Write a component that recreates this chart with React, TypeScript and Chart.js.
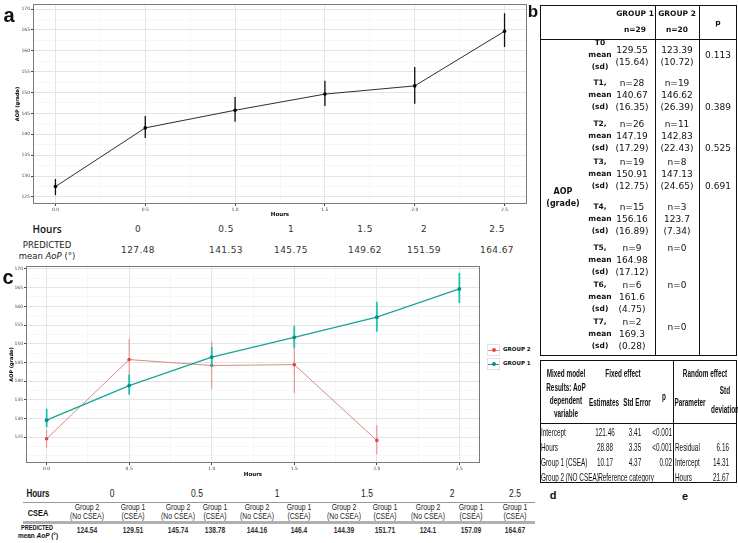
import React, { useEffect, useRef } from "react";
import { Chart, registerables } from "chart.js";
Chart.register(...registerables);

// ---------- Panel a data ----------
const hoursA = [0, 0.5, 1, 1.5, 2, 2.5];
const meanA = [127.48, 141.53, 145.75, 149.62, 151.59, 164.67];
const lowA = [125.4, 139.1, 143.0, 146.8, 147.3, 160.9];
const highA = [129.3, 144.4, 148.9, 152.8, 156.1, 169.0];

// ---------- Panel c data ----------
const hoursG1 = [0, 0.5, 1, 1.5, 2, 2.5];
const group1 = [129.51, 138.78, 146.4, 151.71, 157.09, 164.67];
const group1Low = [127.6, 136.3, 143.8, 148.9, 153.2, 160.9];
const group1High = [132.6, 141.7, 149.1, 154.8, 161.2, 168.9];
const hoursG2 = [0, 0.5, 1, 1.5, 2];
const group2 = [124.54, 145.74, 144.16, 144.39, 124.1];
const group2Low = [122.1, 140.2, 137.8, 136.8, 120.3];
const group2High = [127.0, 151.3, 150.6, 152.0, 128.2];

const yTicks = [125, 130, 135, 140, 145, 150, 155, 160, 165, 170];
const xTicks = [0, 0.5, 1, 1.5, 2, 2.5];
const yRangeA = [123.3, 171.2];
const yRangeC = [118.05, 170.8];
const xRange = [-0.125, 2.625];

// ---------- Table a ----------
const tableAHours = ["0", "0.5", "1", "1.5", "2", "2.5"];

// ---------- Table b ----------
const bTimes = ["T0", "T1,", "T2,", "T3,", "T4,", "T5,", "T6,", "T7,"];
const bG1N = [null, 28, 26, 19, 15, 9, 6, 2];
const bG1Mean = ["129.55", "140.67", "147.19", "150.91", "156.16", "164.98", "161.6", "169.3"];
const bG1Sd = ["15.64", "16.35", "17.29", "12.75", "16.89", "17.12", "4.75", "0.28"];
const bG2N = [null, 19, 11, 8, 3, 0, 0, 0];
const bG2Mean = ["123.39", "146.62", "142.83", "147.13", "123.7", null, null, null];
const bG2Sd = ["10.72", "26.39", "22.43", "24.65", "7.34", null, null, null];
const bP = ["0.113", "0.389", "0.525", "0.691", null, null, null, null];

// ---------- Table d / e ----------
const dTerms = ["Intercept", "Hours", "Group 1 (CSEA)", "Group 2 (NO CSEA)"];
const dEstimates = ["121.46", "28.88", "10.17", null];
const dStdError = ["3.41", "3.35", "4.37", null];
const dP = ["<0.001", "<0.001", "0.02", null];
const eParams = ["Residual", "Intercept", "Hours"];
const eStdDev = ["6.16", "14.31", "21.67"];

// ---------- Table c ----------
const cHours = ["0", "0.5", "1", "1.5", "2", "2.5"];
const cGroupNames = ["Group 2", "Group 1", "Group 2", "Group 1", "Group 2", "Group 1", "Group 2", "Group 1", "Group 2", "Group 1", "Group 1"];
const cGroupSubs = ["(No CSEA)", "(CSEA)", "(No CSEA)", "(CSEA)", "(No CSEA)", "(CSEA)", "(No CSEA)", "(CSEA)", "(No CSEA)", "(CSEA)", "(CSEA)"];
const cPredicted = [124.54, 129.51, 145.74, 138.78, 144.16, 146.4, 144.39, 151.71, 124.1, 157.09, 164.67];

// ---------- layout (positions only) ----------
const colXA = [138, 226, 291, 365, 424, 497];
const colXCHours = [112, 197, 277, 367, 452, 515];
const colXC = [87, 133, 178, 215, 257, 299, 344, 385, 428, 471, 515];
const bRowY = [43, 83, 124, 162, 207, 248, 285, 322];
const dRowY = [432, 447, 462, 477];

function withMinor(major: number[], lo: number, hi: number) {
  const step = major[1] - major[0];
  const ext = [major[0] - step, ...major, major[major.length - 1] + step];
  const out: number[] = [];
  for (let i = 0; i < ext.length; i++) {
    out.push(ext[i]);
    if (i < ext.length - 1) out.push(ext[i] + step / 2);
  }
  return out.filter((v) => v >= lo && v <= hi);
}

function errorBarPoints(xs: number[], lo: number[], hi: number[]) {
  const pts: any[] = [];
  xs.forEach((x, i) => {
    pts.push({ x, y: lo[i] }, { x, y: hi[i] }, { x, y: null });
  });
  return pts;
}

const isMajor = (list: number[], v: number) => list.some((m) => Math.abs(m - v) < 1e-9);

const panelBorder = {
  id: "panelBorder",
  afterDraw(chart: any) {
    const { ctx, chartArea: a } = chart;
    ctx.save();
    ctx.strokeStyle = "#7a7a7a";
    ctx.lineWidth = 1;
    ctx.strokeRect(Math.round(a.left) + 0.5, Math.round(a.top) + 0.5, Math.round(a.width) - 1, Math.round(a.height) - 1);
    ctx.restore();
  },
};

function makeOptions(cfg: {
  yRange: number[];
  yWidth: number;
  xHeight: number;
  yTitlePad: number;
  xTitlePad: number;
  top: number;
  right: number;
}) {
  const gridColor = (list: number[]) => (ctx: any) =>
    ctx.tick && isMajor(list, ctx.tick.value) ? "#e4e4e4" : "#f1f1f1";
  const gridWidth = (list: number[]) => (ctx: any) =>
    ctx.tick && isMajor(list, ctx.tick.value) ? 1 : 0.6;
  const tickColor = (list: number[]) => (ctx: any) =>
    ctx.tick && isMajor(list, ctx.tick.value) ? "#444" : "rgba(0,0,0,0)";
  return {
    animation: false,
    responsive: false,
    maintainAspectRatio: false,
    layout: { padding: { top: cfg.top, right: cfg.right, left: 0, bottom: 0 } },
    plugins: { legend: { display: false }, tooltip: { enabled: false } },
    scales: {
      x: {
        type: "linear",
        min: xRange[0],
        max: xRange[1],
        afterBuildTicks: (s: any) => {
          s.ticks = withMinor(xTicks, xRange[0], xRange[1]).map((v) => ({ value: v }));
        },
        afterFit: (s: any) => {
          s.height = cfg.xHeight;
        },
        border: { display: false },
        grid: { color: gridColor(xTicks), lineWidth: gridWidth(xTicks), tickColor: tickColor(xTicks), tickLength: 2 },
        ticks: {
          autoSkip: false,
          maxRotation: 0,
          padding: 1,
          font: { size: 4.5, family: "DejaVu Sans" },
          color: "#444",
          callback: (v: any) => (isMajor(xTicks, v) ? Number(v).toFixed(1) : ""),
        },
        title: {
          display: true,
          text: "Hours",
          color: "#000",
          font: { size: 5.5, weight: "bold", family: "DejaVu Sans" },
          padding: { top: cfg.xTitlePad, bottom: cfg.xTitlePad },
        },
      },
      y: {
        type: "linear",
        min: cfg.yRange[0],
        max: cfg.yRange[1],
        afterBuildTicks: (s: any) => {
          s.ticks = withMinor(yTicks, cfg.yRange[0], cfg.yRange[1]).map((v) => ({ value: v }));
        },
        afterFit: (s: any) => {
          s.width = cfg.yWidth;
        },
        border: { display: false },
        grid: { color: gridColor(yTicks), lineWidth: gridWidth(yTicks), tickColor: tickColor(yTicks), tickLength: 2 },
        ticks: {
          autoSkip: false,
          padding: 1,
          font: { size: 4.5, family: "DejaVu Sans" },
          color: "#444",
          callback: (v: any) => (isMajor(yTicks, v) ? String(v) : ""),
        },
        title: {
          display: true,
          text: "AOP (grade)",
          color: "#000",
          font: { size: 5, weight: "bold", family: "DejaVu Sans" },
          padding: { top: cfg.yTitlePad, bottom: cfg.yTitlePad },
        },
      },
    },
  } as any;
}

function ChartA() {
  const ref = useRef<HTMLCanvasElement>(null);
  useEffect(() => {
    const chart = new Chart(ref.current!, {
      type: "line",
      data: {
        datasets: [
          {
            data: hoursA.map((x, i) => ({ x, y: meanA[i] })),
            borderColor: "#2e2e2e",
            borderWidth: 1,
            pointRadius: 1.8,
            pointBackgroundColor: "#000",
            pointBorderWidth: 0,
          },
          {
            data: errorBarPoints(hoursA, lowA, highA),
            borderColor: "#111",
            borderWidth: 1.3,
            pointRadius: 0,
            spanGaps: false,
          },
        ],
      },
      options: makeOptions({ yRange: yRangeA, yWidth: 33, xHeight: 18, yTitlePad: 15, xTitlePad: 3.7, top: 4, right: 5 }),
      plugins: [panelBorder],
    } as any);
    return () => chart.destroy();
  }, []);
  return <canvas ref={ref} width={532} height={222} style={{ position: "absolute", left: 0, top: 0, width: 532, height: 222 }} />;
}

function ChartC() {
  const ref = useRef<HTMLCanvasElement>(null);
  useEffect(() => {
    const chart = new Chart(ref.current!, {
      type: "line",
      data: {
        datasets: [
          {
            label: "GROUP 1",
            data: hoursG1.map((x, i) => ({ x, y: group1[i] })),
            borderColor: "#16a596",
            borderWidth: 1.3,
            pointRadius: 1.9,
            pointBackgroundColor: "#0d8c7e",
            pointBorderWidth: 0,
          },
          {
            data: errorBarPoints(hoursG1, group1Low, group1High),
            borderColor: "#1cc3b0",
            borderWidth: 1.8,
            pointRadius: 0,
            spanGaps: false,
          },
          {
            label: "GROUP 2",
            data: hoursG2.map((x, i) => ({ x, y: group2[i] })),
            borderColor: "#d98a84",
            borderWidth: 1,
            pointRadius: 1.8,
            pointBackgroundColor: "#e8453c",
            pointBorderWidth: 0,
          },
          {
            data: errorBarPoints(hoursG2, group2Low, group2High),
            borderColor: "#e08a86",
            borderWidth: 1,
            pointRadius: 0,
            spanGaps: false,
          },
        ],
      },
      options: makeOptions({ yRange: yRangeC, yWidth: 26, xHeight: 17, yTitlePad: 9, xTitlePad: 1.7, top: 4, right: 4 }),
      plugins: [panelBorder],
    } as any);
    return () => chart.destroy();
  }, []);
  return <canvas ref={ref} width={484} height={218} style={{ position: "absolute", left: 0, top: 262, width: 484, height: 218 }} />;
}

const T = ({ x, y, children, style, align = "center", sx = 1 }: any) => {
  const tr =
    align === "center" ? "translate(-50%,-50%)" : align === "left" ? "translate(0,-50%)" : "translate(-100%,-50%)";
  const origin = align === "center" ? "center center" : align === "left" ? "left center" : "right center";
  return (
    <div
      style={{
        position: "absolute",
        left: x,
        top: y,
        transform: sx === 1 ? tr : `${tr} scaleX(${sx})`,
        transformOrigin: origin,
        whiteSpace: "nowrap",
        lineHeight: 1,
        ...style,
      }}
    >
      {children}
    </div>
  );
};

const Box = ({ x, y, w, h, bg }: any) => (
  <div style={{ position: "absolute", left: x, top: y, width: w, height: h, background: bg }} />
);

const LegendKey = ({ y, color, pointColor, label }: any) => (
  <>
    <div style={{ position: "absolute", left: 487, top: y - 6, width: 13, height: 12, border: "1px solid #e2e2e2", boxSizing: "border-box" }} />
    <Box x={488} y={y - 0.5} w={11} h={1} bg={color} />
    <div style={{ position: "absolute", left: 491.5, top: y - 2, width: 4, height: 4, borderRadius: 2, background: pointColor }} />
    <T x={503} y={y} align="left" style={{ fontSize: 5.5, fontWeight: "bold", fontFamily: "DejaVu Sans" }}>
      {label}
    </T>
  </>
);

export default function App() {
  const fa = { fontFamily: '"DejaVu Sans", sans-serif' };
  const calib = { fontFamily: '"Liberation Sans", Arial, sans-serif' };
  const bLab = { fontSize: 7.5, fontWeight: "bold" as const };
  const bVal = { fontSize: 9 };
  const dHead = { fontSize: 11, fontWeight: "bold" as const, ...calib };
  const dBody = { fontSize: 11, ...calib };
  const dS = 0.58;
  return (
    <div
      style={{
        position: "absolute",
        left: 0,
        top: 0,
        width: 738,
        height: 543,
        background: "#fff",
        color: "#111",
        overflow: "hidden",
        ...fa,
      }}
    >
      <ChartA />
      <ChartC />

      {/* panel letters */}
      <T x={9} y={15} style={{ fontSize: 20, fontWeight: "bold", fontFamily: "Liberation Sans" }}>a</T>
      <T x={533} y={11} style={{ fontSize: 17, fontWeight: "bold", fontFamily: "Liberation Sans" }}>b</T>
      <T x={8} y={277} style={{ fontSize: 20, fontWeight: "bold", fontFamily: "Liberation Sans" }}>c</T>
      <T x={553} y={495} style={{ fontSize: 11, fontWeight: "bold", fontFamily: "Liberation Sans" }}>d</T>
      <T x={685} y={496} style={{ fontSize: 11, fontWeight: "bold", fontFamily: "Liberation Sans" }}>e</T>

      {/* table a */}
      <T x={47} y={229} style={{ fontSize: 10, fontWeight: 600, fontFamily: "Open Sans" }}>Hours</T>
      <T x={47} y={245} style={{ fontSize: 8.5, color: "#222" }}>PREDICTED</T>
      <T x={47} y={256} style={{ fontSize: 8.5, color: "#222" }}>
        mean <i>AoP</i> (°)
      </T>
      {tableAHours.map((h, i) => (
        <T key={"ah" + i} x={colXA[i]} y={229} style={{ fontSize: 9, color: "#333", letterSpacing: 0.4 }}>
          {h}
        </T>
      ))}
      {meanA.map((v, i) => (
        <T key={"av" + i} x={colXA[i]} y={250} style={{ fontSize: 9, color: "#333", letterSpacing: 0.4 }}>
          {v.toFixed(2)}
        </T>
      ))}

      {/* legend c */}
      <LegendKey y={350} color="#d98a84" pointColor="#e8453c" label="GROUP 2" />
      <LegendKey y={364} color="#16a596" pointColor="#0d8c7e" label="GROUP 1" />

      {/* table c */}
      <T x={38} y={494} sx={0.8} style={{ fontSize: 10, fontWeight: "bold", ...calib }}>Hours</T>
      {cHours.map((h, i) => (
        <T key={"ch" + i} x={colXCHours[i]} y={494} sx={0.85} style={{ fontSize: 10, color: "#222", ...calib }}>
          {h}
        </T>
      ))}
      <Box x={23} y={502} w={512} h={1} bg="#999" />
      <T x={38} y={513} sx={0.78} style={{ fontSize: 9.5, fontWeight: "bold", ...calib }}>CSEA</T>
      {colXC.map((x, i) => (
        <React.Fragment key={"cg" + i}>
          <T x={x} y={507} sx={0.76} style={{ fontSize: 9, color: "#222", ...calib }}>
            {cGroupNames[i]}
          </T>
          <T x={x} y={516} sx={0.76} style={{ fontSize: 9, color: "#222", ...calib }}>
            {cGroupSubs[i]}
          </T>
        </React.Fragment>
      ))}
      <Box x={23} y={521} w={512} h={2.5} bg="#b0b0b0" />
      <T x={37} y={527} sx={0.79} style={{ fontSize: 7, fontWeight: "bold", ...calib }}>PREDICTED</T>
      <T x={38} y={535} sx={0.92} style={{ fontSize: 7, fontWeight: "bold", ...calib }}>
        mean <i>AoP</i> (°)
      </T>
      {cPredicted.map((v, i) => (
        <T key={"cv" + i} x={colXC[i]} y={530} sx={0.7} style={{ fontSize: 9.5, fontWeight: "bold", color: "#333", ...calib }}>
          {String(v)}
        </T>
      ))}

      {/* table b */}
      <div style={{ position: "absolute", left: 540, top: 5, width: 197, height: 351, border: "1px solid #111", boxSizing: "border-box" }} />
      <Box x={540} y={39} w={197} h={1} bg="#111" />
      <Box x={655} y={5} w={1} h={351} bg="#111" />
      <Box x={699} y={5} w={1} h={351} bg="#111" />
      <T x={635} y={14} style={bLab}>GROUP 1</T>
      <T x={635} y={30} style={bLab}>n=29</T>
      <T x={677} y={14} style={bLab}>GROUP 2</T>
      <T x={677} y={30} style={bLab}>n=20</T>
      <T x={718} y={23} style={bLab}>p</T>
      <T x={563} y={192} style={{ ...bLab, fontSize: 8 }}>AOP</T>
      <T x={563} y={204} style={{ ...bLab, fontSize: 8 }}>(grade)</T>
      {bTimes.map((t, i) => {
        const y0 = bRowY[i];
        const hasN = bG1N[i] !== null;
        return (
          <React.Fragment key={"b" + i}>
            <T x={600} y={y0} style={bLab}>{t}</T>
            <T x={600} y={y0 + 12} style={bLab}>mean</T>
            <T x={600} y={y0 + 24} style={bLab}>(sd)</T>
            {hasN ? (
              <>
                <T x={632} y={y0} style={bVal}>n={bG1N[i]}</T>
                <T x={632} y={y0 + 12} style={bVal}>{bG1Mean[i]}</T>
                <T x={632} y={y0 + 24} style={bVal}>({bG1Sd[i]})</T>
                <T x={677} y={i === 7 ? y0 + 5 : y0} style={bVal}>n={bG2N[i]}</T>
                {bG2Mean[i] !== null && (
                  <>
                    <T x={677} y={y0 + 12} style={bVal}>{bG2Mean[i]}</T>
                    <T x={677} y={y0 + 24} style={bVal}>({bG2Sd[i]})</T>
                  </>
                )}
              </>
            ) : (
              <>
                <T x={632} y={y0 + 7} style={bVal}>{bG1Mean[i]}</T>
                <T x={632} y={y0 + 19} style={bVal}>({bG1Sd[i]})</T>
                <T x={677} y={y0 + 7} style={bVal}>{bG2Mean[i]}</T>
                <T x={677} y={y0 + 19} style={bVal}>({bG2Sd[i]})</T>
              </>
            )}
            {bP[i] && (
              <T x={718} y={hasN ? y0 + 24 : y0 + 12} style={bVal}>{bP[i]}</T>
            )}
          </React.Fragment>
        );
      })}

      {/* table d / e */}
      <div style={{ position: "absolute", left: 540, top: 360, width: 197, height: 123, border: "1px solid #111", boxSizing: "border-box" }} />
      <Box x={540} y={423} w={197} h={1} bg="#111" />
      <Box x={673} y={360} w={1} h={123} bg="#111" />
      <T x={566} y={373} sx={dS} style={dHead}>Mixed model</T>
      <T x={566} y={387} sx={dS} style={dHead}>Results: AoP</T>
      <T x={566} y={400} sx={dS} style={dHead}>dependent</T>
      <T x={566} y={413} sx={dS} style={dHead}>variable</T>
      <T x={623} y={373} sx={dS} style={dHead}>Fixed effect</T>
      <T x={604} y={402} sx={dS} style={dHead}>Estimates</T>
      <T x={637} y={402} sx={dS} style={dHead}>Std Error</T>
      <T x={664} y={396} sx={dS} style={dHead}>p</T>
      <T x={705} y={373} sx={dS} style={dHead}>Random effect</T>
      <T x={690} y={402} sx={dS} style={dHead}>Parameter</T>
      <T x={725} y={390} sx={dS} style={dHead}>Std</T>
      <T x={725} y={409} sx={dS} style={dHead}>deviation</T>
      {dTerms.map((t, i) => (
        <React.Fragment key={"d" + i}>
          <T x={541} y={dRowY[i]} align="left" sx={dS} style={dBody}>{t}</T>
          {dEstimates[i] && <T x={605} y={dRowY[i]} sx={dS} style={dBody}>{dEstimates[i]}</T>}
          {dStdError[i] && <T x={635} y={dRowY[i]} sx={dS} style={dBody}>{dStdError[i]}</T>}
          {dP[i] && <T x={672} y={dRowY[i]} align="right" sx={dS} style={dBody}>{dP[i]}</T>}
        </React.Fragment>
      ))}
      <T x={626} y={dRowY[3]} sx={dS} style={dBody}>Reference category</T>
      {eParams.map((p, i) => (
        <React.Fragment key={"e" + i}>
          <T x={675} y={dRowY[i + 1]} align="left" sx={dS} style={dBody}>{p}</T>
          <T x={729} y={dRowY[i + 1]} align="right" sx={dS} style={dBody}>{eStdDev[i]}</T>
        </React.Fragment>
      ))}
    </div>
  );
}
